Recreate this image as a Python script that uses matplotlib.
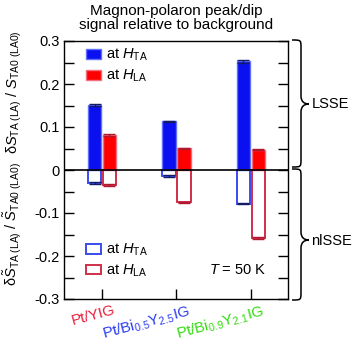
import matplotlib
matplotlib.use('Agg')
import matplotlib.pyplot as plt
import numpy as np
from matplotlib.path import Path
from matplotlib.patches import PathPatch, Patch
import matplotlib.transforms as mtransforms

plt.rcParams['font.family'] = ['Liberation Sans', 'DejaVu Sans']
plt.rcParams['mathtext.fontset'] = 'custom'
plt.rcParams['mathtext.rm'] = 'Liberation Sans'
plt.rcParams['mathtext.it'] = 'Liberation Sans:italic'
plt.rcParams['mathtext.bf'] = 'Liberation Sans:bold'
plt.rcParams['axes.unicode_minus'] = False

# ---- data ----
samples = ['Pt/YIG', 'Pt/Bi$_{0.5}$Y$_{2.5}$IG', 'Pt/Bi$_{0.9}$Y$_{2.1}$IG']
sample_colors = ['#e8203c', '#2a3cf0', '#34dc10']
lsse_TA = [0.152, 0.113, 0.253]
lsse_TA_err = [0.002, 0.002, 0.003]
lsse_LA = [0.081, 0.051, 0.047]
lsse_LA_err = [0.003, 0.001, 0.001]
nlsse_TA = [-0.031, -0.014, -0.078]
nlsse_TA_err = [0.002, 0.002, 0.002]
nlsse_LA = [-0.035, -0.075, -0.158]
nlsse_LA_err = [0.002, 0.001, 0.002]
yticks = [-0.3, -0.2, -0.1, 0, 0.1, 0.2, 0.3]
yticklabels = ['-0.3', '-0.2', '-0.1', '0', '0.1', '0.2', '0.3']
yminor = [-0.25, -0.15, -0.05, 0.05, 0.15, 0.25]
legend_labels = ['at $H_{\\mathrm{TA}}$', 'at $H_{\\mathrm{LA}}$']

# ---- styles ----
blue_fill = '#0a10f0'
blue_edge = '#6070ff'
red_fill = '#ff0000'
red_edge = '#f07080'
blue_open = '#3a4cf0'
red_open = '#d0304a'
blue_err = '#141c66'
red_err = '#b01830'

W, H = 355, 350
fig = plt.figure(figsize=(W / 100, H / 100), dpi=100)
ax = fig.add_axes([64 / W, 1 - 299 / H, 224 / W, 258 / H])

x = np.arange(len(samples))
w = 0.18
off = 0.1
ekw = dict(capsize=4.3, elinewidth=1.0, capthick=1.0)

ax.bar(x - off, lsse_TA, w, color=blue_fill, edgecolor=blue_edge, linewidth=1.0,
       yerr=lsse_TA_err, error_kw=dict(ecolor=blue_err, **ekw), zorder=2)
ax.bar(x + off, lsse_LA, w, color=red_fill, edgecolor=red_edge, linewidth=1.0,
       yerr=lsse_LA_err, error_kw=dict(ecolor=red_err, **ekw), zorder=2)
ax.bar(x - off, nlsse_TA, w, facecolor='none', edgecolor=blue_open, linewidth=1.4,
       yerr=nlsse_TA_err, error_kw=dict(ecolor=blue_err, **ekw), zorder=2)
ax.bar(x + off, nlsse_LA, w, facecolor='none', edgecolor=red_open, linewidth=1.4,
       yerr=nlsse_LA_err, error_kw=dict(ecolor=red_err, **ekw), zorder=2)
ax.axhline(0, color='black', linewidth=1.2, zorder=3)

ax.set_xlim(-0.51, 2.5)
ax.set_ylim(-0.3, 0.3)
ax.set_yticks(yticks)
ax.set_yticklabels(yticklabels)
ax.set_yticks(yminor, minor=True)
ax.tick_params(axis='y', which='both', direction='in', length=7, width=1.0,
               right=True, left=True, labelsize=10.5, pad=3)
ax.tick_params(axis='x', which='both', direction='in', length=7, width=1.0,
               top=False, labelsize=11, pad=3)
for s in ax.spines.values():
    s.set_linewidth(1.0)

ax.set_xticks(x)
ax.set_xticklabels(samples, rotation=15, ha='right', rotation_mode='anchor')
shift = mtransforms.ScaledTranslation(11 / 100, 0, fig.dpi_scale_trans)
for lab, c in zip(ax.get_xticklabels(), sample_colors):
    lab.set_color(c)
    lab.set_transform(lab.get_transform() + shift)

# legends
h_pos = [Patch(facecolor=blue_fill, edgecolor=blue_edge, linewidth=1.0),
         Patch(facecolor=red_fill, edgecolor=red_edge, linewidth=1.0)]
h_neg = [Patch(facecolor='none', edgecolor=blue_open, linewidth=1.4),
         Patch(facecolor='none', edgecolor=red_open, linewidth=1.4)]
lkw = dict(frameon=False, borderpad=0, borderaxespad=0, handlelength=1.0,
           handleheight=0.65, handletextpad=0.4, labelspacing=0.3, fontsize=10.5)
leg1 = ax.legend(h_pos, legend_labels, loc='upper left',
                 bbox_to_anchor=((86 - 64) / 224, (299 - 47) / 258), **lkw)
ax.add_artist(leg1)
ax.legend(h_neg, legend_labels, loc='lower left',
          bbox_to_anchor=((86 - 64) / 224, (299 - 279) / 258), **lkw)

ax.text((267 - 64) / 224, (299 - 270) / 258, '$T$ = 50 K', transform=ax.transAxes,
        ha='right', va='center', fontsize=10.5)

# title
fig.text(176 / W, 1 - 15 / H, 'Magnon-polaron peak/dip', ha='center', va='baseline', fontsize=11)
fig.text(176 / W, 1 - 28.5 / H, 'signal relative to background', ha='center', va='baseline', fontsize=11)

# y labels
fig.text(17.5 / W, 1 - 92 / H,
         'δ$S_{\\mathrm{TA\\ (LA)}}$ / $S_{\\mathrm{TA0\\ (LA0)}}$',
         rotation=90, rotation_mode='anchor', ha='center', va='baseline', fontsize=10.5)
fig.text(17.5 / W, 1 - 224 / H,
         'δ$\\tilde{S}_{\\mathrm{TA\\ (LA)}}$ / $\\tilde{S}_{\\mathrm{TA0\\ (LA0)}}$',
         rotation=90, rotation_mode='anchor', ha='center', va='baseline', fontsize=10.5)


def brace(x0, x1, x2, yt, ym, yb, r=8):
    P = lambda px, py: (px / W, 1 - py / H)
    verts = [P(x0, yt),
             P(x1, yt), P(x1, yt), P(x1, yt + r),
             P(x1, ym - r),
             P(x1, ym - r * 0.3), P(x2 - (x2 - x1) * 0.6, ym), P(x2, ym),
             P(x2 - (x2 - x1) * 0.6, ym), P(x1, ym + r * 0.3), P(x1, ym + r),
             P(x1, yb - r),
             P(x1, yb), P(x1, yb), P(x0, yb)]
    codes = [Path.MOVETO,
             Path.CURVE4, Path.CURVE4, Path.CURVE4,
             Path.LINETO,
             Path.CURVE4, Path.CURVE4, Path.CURVE4,
             Path.CURVE4, Path.CURVE4, Path.CURVE4,
             Path.LINETO,
             Path.CURVE4, Path.CURVE4, Path.CURVE4]
    fig.add_artist(PathPatch(Path(verts, codes), transform=fig.transFigure,
                             fill=False, lw=1.1, edgecolor='black'))


brace(292, 301, 309, 40, 104, 167)
brace(292, 301, 309, 169, 240, 300)
fig.text(312 / W, 1 - 104 / H, 'LSSE', ha='left', va='center', fontsize=10.5)
fig.text(311 / W, 1 - 241 / H, 'nlSSE', ha='left', va='center', fontsize=10.5)

fig.savefig('out.png', dpi=100)
